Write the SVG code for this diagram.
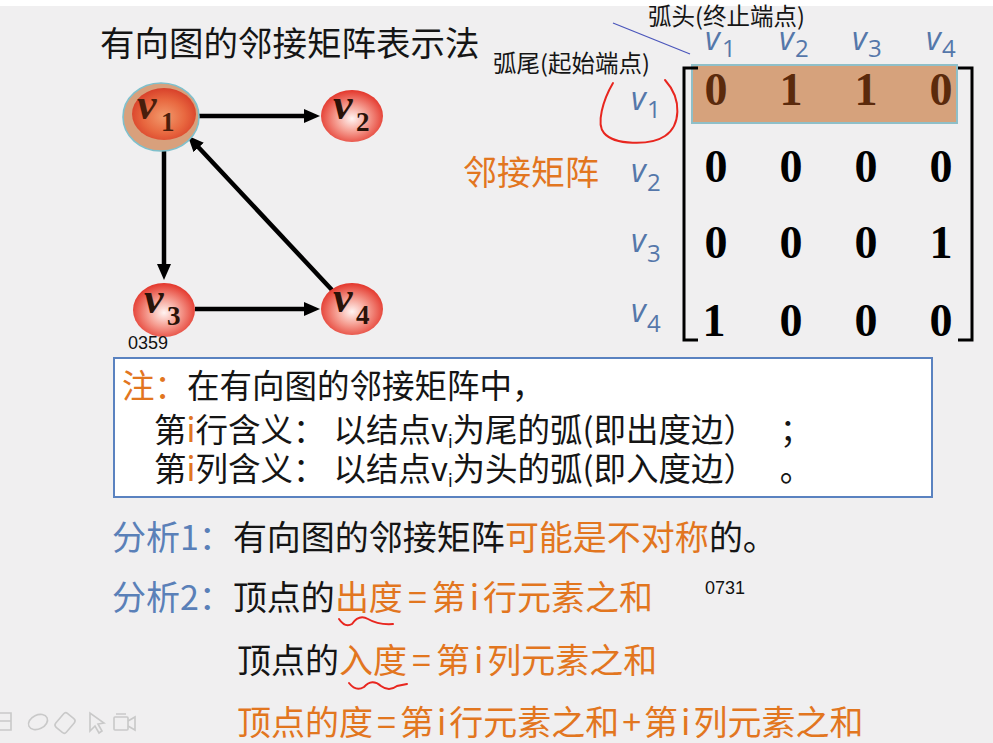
<svg xmlns="http://www.w3.org/2000/svg" width="993" height="743" viewBox="0 0 993 743">
  <defs>
    <radialGradient id="ballRed" cx="50%" cy="55%" r="55%">
      <stop offset="0" stop-color="#fff4f2"/>
      <stop offset="0.45" stop-color="#f6a195"/>
      <stop offset="1" stop-color="#e3352a"/>
    </radialGradient>
    <radialGradient id="ballHot" cx="50%" cy="55%" r="55%">
      <stop offset="0" stop-color="#f29a6c"/>
      <stop offset="0.6" stop-color="#e8673f"/>
      <stop offset="1" stop-color="#d8402a"/>
    </radialGradient>
    <marker id="arrow" viewBox="0 0 16 14" refX="1" refY="7" markerWidth="16" markerHeight="14" markerUnits="userSpaceOnUse" orient="auto">
      <path d="M0,0 L16,7 L0,14 z" fill="#000"/>
    </marker>
    <style>
      .cjk { font-family: "Noto Sans CJK SC", "Noto Sans", sans-serif; }
      .title { font-size: 34.5px; fill: #151515; }
      .note { font-size: 32.5px; fill: #151515; }
      .ana { font-size: 34px; fill: #151515; }
      .orange { fill: #e2761f; }
      .blue { fill: #5a80b8; }
      .small { font-family: "Liberation Sans", Arial, sans-serif; font-size: 18px; fill: #111; }
      .nodev { font-family: "Liberation Serif", "Times New Roman", serif; font-style: italic; font-weight: bold; font-size: 44px; fill: #2a1208; }
      .nodesub { font-family: "Liberation Serif", "Times New Roman", serif; font-weight: bold; font-size: 27px; fill: #2a1208; }
      .lab { font-family: "Open Sans", "Liberation Sans", sans-serif; font-style: italic; font-size: 32px; fill: #5577aa; }
      .labsub { font-family: "Open Sans", "Liberation Sans", sans-serif; font-size: 24px; fill: #5577aa; }
      .num { font-family: "Liberation Serif", "Times New Roman", serif; font-weight: bold; font-size: 46px; fill: #000; text-anchor: middle; }
      .edge { stroke: #000; stroke-width: 4.5; fill: none; marker-end: url(#arrow); }
      .red { stroke: #e8261f; stroke-width: 2; fill: none; stroke-linecap: round; }
      .tool { stroke: #c9c9c9; stroke-width: 1.6; fill: none; }
    </style>
  </defs>

  <!-- page -->
  <rect x="0" y="0" width="993" height="743" fill="#f0eff0"/>
  <rect x="0" y="0" width="993" height="6" fill="#ffffff"/>

  <!-- heading -->
  <text class="cjk title" x="100" y="56">有向图的邻接矩阵表示法</text>

  <!-- connectors -->
  <g id="connectors">
    <line class="edge" x1="199" y1="116" x2="305" y2="116"/>
    <line class="edge" x1="164" y1="140" x2="164" y2="265"/>
    <line class="edge" x1="195" y1="309" x2="305" y2="309"/>
    <line class="edge" x1="332" y1="290" x2="198" y2="146.7"/>
  </g>

  <!-- nodes -->
  <g id="node-v1">
    <ellipse cx="161" cy="117" rx="38" ry="34" fill="#d8a07c" stroke="#7fc0cc" stroke-width="1.6"/>
    <ellipse cx="164" cy="114" rx="32" ry="26" fill="url(#ballHot)"/>
    <text class="nodev" x="137" y="119" style="fill:#4a1e0c">v</text>
    <text class="nodesub" x="161" y="131" style="fill:#4a1e0c">1</text>
  </g>
  <g id="node-v2">
    <ellipse cx="352" cy="116" rx="31" ry="26" fill="url(#ballRed)"/>
    <text class="nodev" x="333" y="119">v</text>
    <text class="nodesub" x="356" y="131">2</text>
  </g>
  <g id="node-v3">
    <ellipse cx="164" cy="310" rx="31" ry="27" fill="url(#ballRed)"/>
    <text class="nodev" x="144" y="313">v</text>
    <text class="nodesub" x="167" y="325">3</text>
  </g>
  <g id="node-v4">
    <ellipse cx="352" cy="309" rx="31" ry="26" fill="url(#ballRed)"/>
    <text class="nodev" x="333" y="312">v</text>
    <text class="nodesub" x="356" y="324">4</text>
  </g>

  <text class="small" x="128" y="349">0359</text>

  <!-- matrix side -->
  <text class="cjk" x="648" y="25" font-size="23.5" fill="#151515">弧头(终止端点)</text>
  <text class="cjk" x="493" y="72" font-size="23.5" fill="#151515">弧尾(起始端点)</text>
  <line x1="613" y1="23" x2="690" y2="54" stroke="#4a55bb" stroke-width="1.2"/>

  <text class="cjk orange" x="463" y="185" font-size="34">邻接矩阵</text>

  <!-- column labels -->
  <g id="col-labels">
    <text class="lab" x="705" y="50">v</text><text class="labsub" x="722" y="57">1</text>
    <text class="lab" x="779" y="50">v</text><text class="labsub" x="795" y="57">2</text>
    <text class="lab" x="852" y="50">v</text><text class="labsub" x="868" y="57">3</text>
    <text class="lab" x="926" y="50">v</text><text class="labsub" x="942" y="57">4</text>
  </g>
  <!-- row labels -->
  <g id="row-labels">
    <text class="lab" x="631" y="110">v</text><text class="labsub" x="647" y="118">1</text>
    <text class="lab" x="631" y="182">v</text><text class="labsub" x="647" y="191">2</text>
    <text class="lab" x="631" y="252">v</text><text class="labsub" x="647" y="262">3</text>
    <text class="lab" x="631" y="322">v</text><text class="labsub" x="647" y="332">4</text>
  </g>

  <!-- highlighted first row -->
  <rect x="692" y="65" width="265" height="58" fill="#d6a27c" stroke="#8fbfc8" stroke-width="2"/>

  <!-- brackets -->
  <path d="M698,68 H684 V340 H698" fill="none" stroke="#000" stroke-width="3"/>
  <path d="M958,68 H972 V340 H958" fill="none" stroke="#000" stroke-width="3"/>

  <!-- entries -->
  <g id="matrix">
    <text class="num" x="716" y="105" style="fill:#5b2a0c">0</text>
    <text class="num" x="791" y="105" style="fill:#5b2a0c">1</text>
    <text class="num" x="866" y="105" style="fill:#5b2a0c">1</text>
    <text class="num" x="941" y="105" style="fill:#5b2a0c">0</text>
    <text class="num" x="716" y="182">0</text>
    <text class="num" x="791" y="182">0</text>
    <text class="num" x="866" y="182">0</text>
    <text class="num" x="941" y="182">0</text>
    <text class="num" x="716" y="258">0</text>
    <text class="num" x="791" y="258">0</text>
    <text class="num" x="866" y="258">0</text>
    <text class="num" x="941" y="258">1</text>
    <text class="num" x="714" y="336">1</text>
    <text class="num" x="791" y="336">0</text>
    <text class="num" x="866" y="336">0</text>
    <text class="num" x="941" y="336">0</text>
  </g>

  <!-- hand-drawn loop around row v1 -->
  <path class="red" d="M613,83 C603,100 596,124 604,133 C614,145 650,146 665,136 C680,126 683,100 665,80"/>

  <!-- note box -->
  <g id="note">
    <rect x="114" y="358" width="818" height="139" fill="#ffffff" stroke="#5a82c0" stroke-width="2"/>
    <text class="cjk note" x="122" y="398"><tspan class="orange">注：</tspan>在有向图的邻接矩阵中，</text>
    <text class="cjk note" x="154" y="442">第<tspan class="orange">i</tspan>行含义：<tspan dx="8">以结点v</tspan><tspan font-size="17" dy="6">i</tspan><tspan dy="-6">为尾的弧(即出度边）</tspan><tspan dx="40">；</tspan></text>
    <text class="cjk note" x="154" y="481">第<tspan class="orange">i</tspan>列含义：<tspan dx="8">以结点v</tspan><tspan font-size="17" dy="6">i</tspan><tspan dy="-6">为头的弧(即入度边）</tspan><tspan dx="40">。</tspan></text>
  </g>

  <!-- analysis -->
  <text class="cjk ana" x="112" y="550"><tspan class="blue">分析1：</tspan>有向图的邻接矩阵<tspan class="orange">可能是不对称</tspan>的。</text>
  <text class="cjk ana" x="112" y="610"><tspan class="blue">分析2：</tspan>顶点的<tspan class="orange">出度<tspan dx="5">=</tspan><tspan dx="5">第</tspan><tspan dx="4">i</tspan><tspan dx="4">行元素之和</tspan></tspan></text>
  <text class="small" x="705" y="594">0731</text>
  <text class="cjk ana" x="237" y="673">顶点的<tspan class="orange">入度<tspan dx="5">=</tspan><tspan dx="5">第</tspan><tspan dx="4">i</tspan><tspan dx="4">列元素之和</tspan></tspan></text>
  <text class="cjk ana orange" x="237" y="735">顶点的度<tspan dx="4">=</tspan><tspan dx="4">第</tspan><tspan dx="3">i</tspan><tspan dx="3">行元素之和</tspan><tspan dx="3">+</tspan><tspan dx="3">第</tspan><tspan dx="3">i</tspan><tspan dx="3">列元素之和</tspan></text>

  <!-- squiggles -->
  <path class="red" d="M339,619 Q345,628 352,624 Q359,614 368,619 Q378,625 393,624"/>
  <path class="red" d="M349,683 Q356,692 364,687 Q372,678 381,686 Q389,692 397,686 L407,684"/>

  <!-- faint toolbar -->
  <g id="toolbar">
    <path class="tool" d="M0,713 H11 V730 H0 M0,721 H11"/>
    <ellipse class="tool" cx="38" cy="722" rx="10" ry="7" transform="rotate(-25 38 722)"/>
    <rect class="tool" x="58" y="714" width="14" height="18" rx="3" transform="rotate(40 65 723)"/>
    <path class="tool" d="M90,713 L90,731 L95,726 L99,733 L102,731 L98,724 L104,723 Z"/>
    <rect class="tool" x="114" y="717" width="14" height="13" rx="1"/>
    <path class="tool" d="M116,714 H126 M128,721 L135,717 V730 L128,726"/>
  </g>
</svg>
